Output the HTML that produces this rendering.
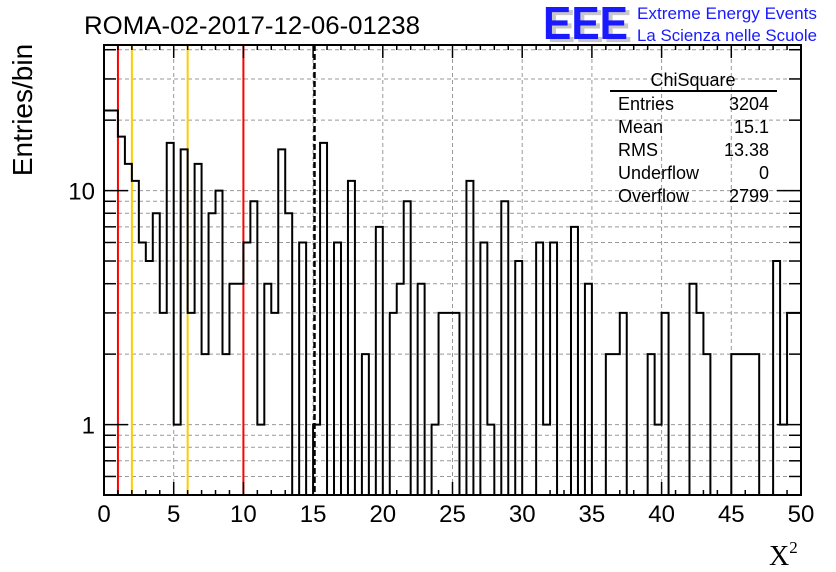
<!DOCTYPE html>
<html><head><meta charset="utf-8"><style>
html,body{margin:0;padding:0;background:#fff;}
svg{display:block;font-family:"Liberation Sans",sans-serif;}
</style></head><body>
<svg id="chart" width="836" height="572" viewBox="0 0 836 572">
<rect width="836" height="572" fill="#fff"/>
<text x="84" y="34" font-size="25" fill="#000" textLength="336" lengthAdjust="spacingAndGlyphs">ROMA-02-2017-12-06-01238</text>
<g>
<text x="547" y="42" font-size="46" font-weight="bold" fill="#c8c8c8" textLength="85" lengthAdjust="spacingAndGlyphs">EEE</text>
<text x="543" y="39" font-size="46" font-weight="bold" fill="#1a1aff" textLength="85" lengthAdjust="spacingAndGlyphs">EEE</text>
<text x="637" y="19" font-size="17" fill="#1a1aff" textLength="180" lengthAdjust="spacingAndGlyphs">Extreme Energy Events</text>
<text x="637" y="41" font-size="17" fill="#1a1aff" textLength="180" lengthAdjust="spacingAndGlyphs">La Scienza nelle Scuole</text>
</g>
<text transform="translate(32,110) rotate(-90)" text-anchor="middle" font-size="28">Entries/bin</text>
<text x="769" y="565" font-family="Liberation Serif,serif" font-size="28">X<tspan font-size="17" dy="-12">2</tspan></text>
<g id="grid"></g><g id="marks"></g><g id="hist"></g><g id="axes"></g>
<g font-size="18">
<text x="693" y="86" text-anchor="middle">ChiSquare</text>
<line x1="610" y1="91" x2="777" y2="91" stroke="#000" stroke-width="2"/>
<text x="618" y="110">Entries</text><text x="769" y="110" text-anchor="end">3204</text>
<text x="618" y="133">Mean</text><text x="769" y="133" text-anchor="end">15.1</text>
<text x="618" y="156">RMS</text><text x="769" y="156" text-anchor="end">13.38</text>
<text x="618" y="179">Underflow</text><text x="769" y="179" text-anchor="end">0</text>
<text x="618" y="202">Overflow</text><text x="769" y="202" text-anchor="end">2799</text>
</g>
</svg>
<script>
const counts = [22,22,17,13,11,6,5,8,3,16,1,15,3,13,2,8,10,2,4,4,6,9,1,4,3,15,8,0,6,0,1,16,0,6,0,11,0,2,0,7,0,3,4,9,0,4,0,1,3,3,3,0,11,0,6,1,0,9,0,5,0,0,6,1,6,0,0,7,0,4,0,0,2,2,3,0,0,0,2,1,3,0,0,0,4,3,2,0,0,0,2,2,2,2,0,0,5,1,3,3];
const xTicks = [0,5,10,15,20,25,30,35,40,45,50];
const yTickLabels = [1,10];
const redLines = [1,10];
const orangeLines = [2,6];
const meanValue = 15.1;
const xMin=0,xMax=50,yMin=0.5,yMax=41.9;
const L=104,R=801,T=45,B=495;
const NS="http://www.w3.org/2000/svg";
function X(v){return L+(v-xMin)/(xMax-xMin)*(R-L);}
function Y(v){if(v<=yMin)return B;return B-(Math.log10(v)-Math.log10(yMin))/(Math.log10(yMax)-Math.log10(yMin))*(B-T);}
function mk(tag,attrs,parent){const e=document.createElementNS(NS,tag);for(const k in attrs)e.setAttribute(k,attrs[k]);parent.appendChild(e);return e;}
const grid=document.getElementById('grid'),marks=document.getElementById('marks'),hist=document.getElementById('hist'),axes=document.getElementById('axes');
const yGridVals=[];
for(let d=0.1;d<=10;d*=10){for(let m=1;m<=9;m++){const v=+(m*d).toFixed(3);if(v>yMin&&v<yMax)yGridVals.push(v);}}
yGridVals.forEach(v=>{
const g=mk('line',{x1:L,x2:R,y1:Y(v),y2:Y(v),stroke:'#999','stroke-width':1,'stroke-dasharray':'4,3'},grid);


});
xTicks.forEach(v=>{
if(v===xMin||v===xMax)return;
const g=mk('line',{x1:X(v),x2:X(v),y1:T,y2:B,stroke:'#999','stroke-width':1,'stroke-dasharray':'4,3'},grid);


});
redLines.forEach(v=>{
const l=mk('line',{x1:X(v),x2:X(v),y1:T,y2:B,stroke:'#ff0000','stroke-width':2},marks);


});
orangeLines.forEach(v=>{
const l=mk('line',{x1:X(v),x2:X(v),y1:T,y2:B,stroke:'#ffcc00','stroke-width':2},marks);


});
const ml=mk('line',{x1:X(meanValue),x2:X(meanValue),y1:T,y2:B,stroke:'#000','stroke-width':2.5,'stroke-dasharray':'6,3'},marks);


const bw=(xMax-xMin)/counts.length;
let d='M'+X(xMin)+','+Y(counts[0]);
counts.forEach((c,i)=>{
const y=Y(c);
d+=' L'+X(xMin+i*bw)+','+y+' L'+X(xMin+(i+1)*bw)+','+y;
});
const hp=mk('path',{d:d,fill:'none',stroke:'#000','stroke-width':2},hist);


const fr=mk('rect',{x:L,y:T,width:R-L,height:B-T,fill:'none',stroke:'#000','stroke-width':2},axes);


for(let v=xMin;v<=xMax;v++){
const major=v%5===0, h=major?13:5;
const t1=mk('line',{x1:X(v),x2:X(v),y1:B,y2:B-h,stroke:'#000','stroke-width':1.5},axes);


const t2=mk('line',{x1:X(v),x2:X(v),y1:T,y2:T+h,stroke:'#000','stroke-width':1.5},axes);


}
xTicks.forEach(v=>{
const t=mk('text',{x:X(v),y:522,'text-anchor':'middle','font-size':24},axes);
t.textContent=v;


});
yGridVals.forEach(v=>{
const major=(v===1||v===10), h=major?24:12;
const t1=mk('line',{x1:L,x2:L+h,y1:Y(v),y2:Y(v),stroke:'#000','stroke-width':1.5},axes);


const t2=mk('line',{x1:R,x2:R-h,y1:Y(v),y2:Y(v),stroke:'#000','stroke-width':1.5},axes);


});
yTickLabels.forEach(v=>{
const t=mk('text',{x:95,y:Y(v)+9,'text-anchor':'end','font-size':24},axes);
t.textContent=v;


});
</script>
</body></html>
